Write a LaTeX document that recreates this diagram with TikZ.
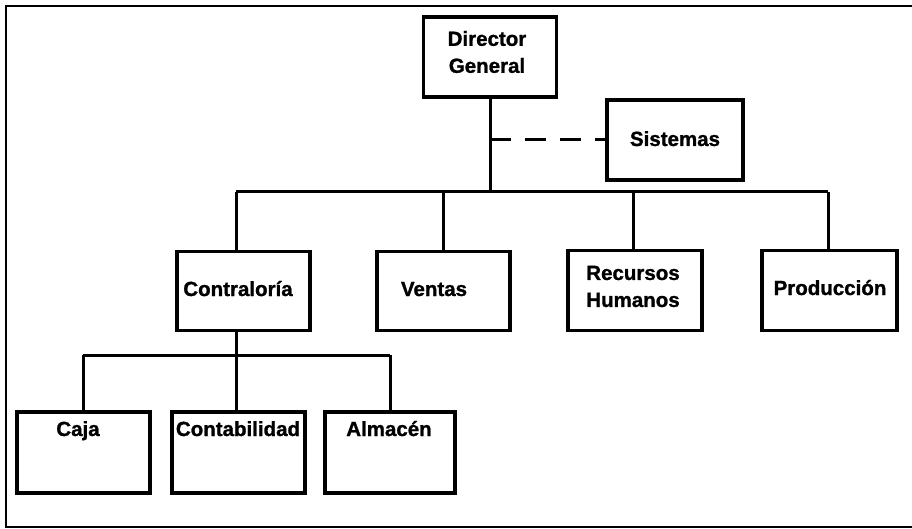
\documentclass[tikz,border=0pt]{standalone}
\usepackage{fontspec}
\setmainfont{Liberation Sans}
\newfontfamily\unitfont{Liberation Sans Bold}[FakeBold=1.2]
\begin{document}
\begin{tikzpicture}[x=1pt,y=-1pt,
  orgbox/.style={draw=black, line width=3.4pt, inner sep=0pt, minimum width=133pt, minimum height=80pt},
  txt/.style={inner sep=0pt, font=\fontsize{20.5}{27}\unitfont},
  link/.style={draw=black, line width=3pt},
  staff/.style={draw=black, line width=3pt, dash pattern=on 21pt off 14pt},
  frame/.style={draw=black, line width=1.8pt}]
\useasboundingbox (0,0) rectangle (912,529);

% outer frame (open on the right)
\coordinate (f1) at (912,6);
\coordinate (f2) at (6,6);
\coordinate (f3) at (6,527);
\coordinate (f4) at (912,527);
\draw[frame] (f1) -- (f2) -- (f3) -- (f4);

% boxes
\node[orgbox] (dg)   at (490,57)  {};
\node[orgbox, minimum width=136pt] (sis) at (675,140) {};
\node[orgbox, minimum height=79pt] (con)  at (243.5,291) {};
\node[orgbox, minimum height=79pt] (ven)  at (443.5,291) {};
\node[orgbox, minimum width=134pt, minimum height=80pt] (rh) at (635,290.5) {};
\node[orgbox, minimum width=135pt, minimum height=80pt] (pro) at (829.5,290.5) {};
\node[orgbox, minimum height=81pt] (caja) at (83.5,452.5) {};
\node[orgbox, minimum height=81pt] (cont) at (238.5,452.5) {};
\node[orgbox, minimum width=130pt, minimum height=81pt] (alm) at (390,452.5) {};

% labels
\node[txt, align=center] (dg-t) at (487,52) {Director\\General};
\node[txt, anchor=base] (sis-t) at (675,146) {Sistemas};
\node[txt, anchor=base] (con-t) at (238,296) {Contraloría};
\node[txt, anchor=base] (ven-t) at (434,296) {Ventas};
\node[txt, align=center] (rh-t) at (633,286.5) {Recursos\\Humanos};
\node[txt, anchor=base] (pro-t) at (830,295) {Producción};
\node[txt, anchor=base] (caja-t) at (78,436) {Caja};
\node[txt, anchor=base] (cont-t) at (238,436) {Contabilidad};
\node[txt, anchor=base] (alm-t) at (389,436) {Almacén};

% junction points
\coordinate (top)  at (490,192);
\coordinate (tcon) at (236,192);
\coordinate (tven) at (443,192);
\coordinate (trh)  at (633,192);
\coordinate (tpro) at (828,192);
\coordinate (stf)  at (490,140);
\coordinate (bcon) at (236,355);
\coordinate (bcaj) at (83,355);
\coordinate (balm) at (390,355);

% connectors
\draw[link] (dg.south) -- (top);
\draw[link] (tcon) -- (tpro);
\draw[link] (tcon) -- (con.north -| tcon);
\draw[link] (tven) -- (ven.north -| tven);
\draw[link] (trh)  -- (rh.north -| trh);
\draw[link] (tpro) -- (pro.north -| tpro);
\draw[staff] (stf) -- (sis.west);

\draw[link] (con.south -| bcon) -- (bcon);
\draw[link] (bcaj) -- (balm);
\draw[link] (bcaj) -- (caja.north -| bcaj);
\draw[link] (bcon) -- (cont.north -| bcon);
\draw[link] (balm) -- (alm.north -| balm);
\end{tikzpicture}
\end{document}
